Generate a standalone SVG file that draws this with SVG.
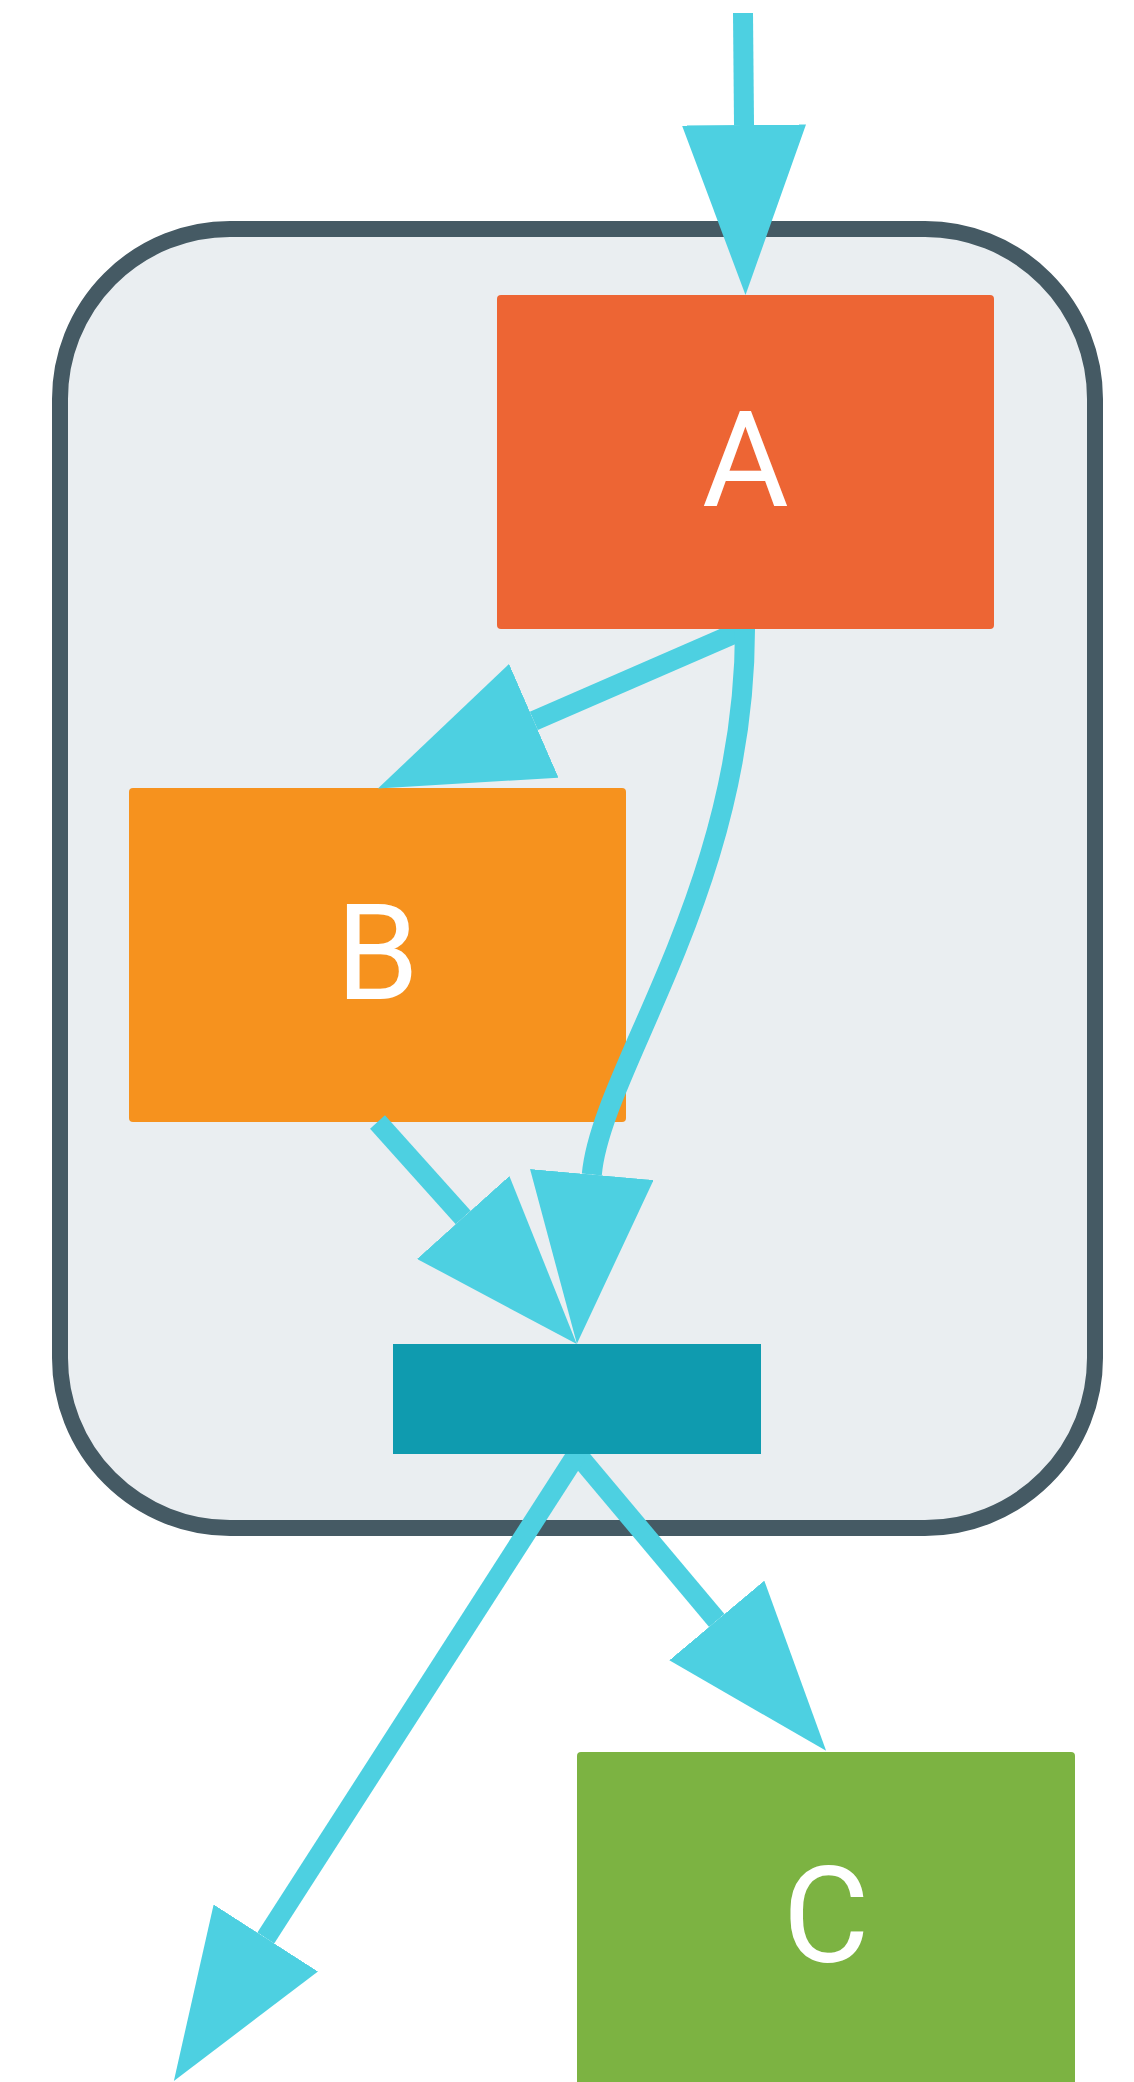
<svg xmlns="http://www.w3.org/2000/svg" width="1134" height="2082" viewBox="0 0 1134 2082">
  <style>
    .edge { fill: none; stroke: #4DD0E1; stroke-width: 20; stroke-linecap: butt; marker-end: url(#ah); }
    .label { font-family: Roboto, "Liberation Sans", sans-serif; font-size: 133px; fill: #FFFFFF; text-anchor: middle; }
  </style>
  <defs>
    <marker id="ah" markerUnits="userSpaceOnUse" markerWidth="170" markerHeight="124" viewBox="0 -62 170 124" refX="0" refY="0" orient="auto">
      <path d="M0,-62 L170,0 L0,62 z" fill="#4DD0E1"/>
    </marker>
  </defs>
  <rect width="1134" height="2082" fill="#FFFFFF"/>
  <g id="container">
    <rect x="60" y="229" width="1035" height="1299" rx="170" ry="170" fill="#EAEEF1" stroke="#455A64" stroke-width="16"/>
  </g>
  <g id="node-B">
    <rect x="129" y="788" width="497" height="334" rx="4" ry="4" fill="#F6921E"/>
    <text class="label" x="377.5" y="999">B</text>
  </g>
  <g id="connectors">
    <path class="edge" d="M743,13 L744,125"/>
    <path class="edge" d="M745,629 L533.8,720.8"/>
    <path class="edge" d="M745,629 C745,890 601,1070 591.8,1174.5"/>
    <path class="edge" d="M377.5,1122 L463.2,1217.5"/>
    <path class="edge" d="M577,1454 L716.8,1620.5"/>
    <path class="edge" d="M577,1454 L265.8,1938"/>
  </g>
  <g id="node-A">
    <rect x="497" y="295" width="497" height="334" rx="4" ry="4" fill="#ED6534"/>
    <text class="label" x="745.5" y="506">A</text>
  </g>
  <g id="node-bar">
    <rect x="393" y="1344" width="368" height="110" fill="#0F9BAF"/>
  </g>
  <g id="node-C">
    <rect x="577" y="1752" width="498" height="334" rx="4" ry="4" fill="#7CB342"/>
    <text class="label" x="826" y="1962">C</text>
  </g>
</svg>
